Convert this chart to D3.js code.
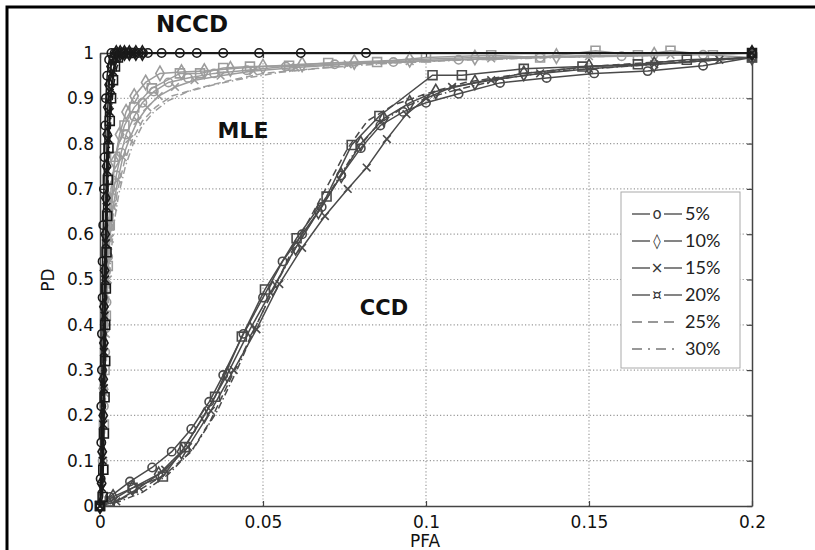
<!DOCTYPE html>
<html>
<head>
<meta charset="utf-8">
<script src="https://cdn.jsdelivr.net/npm/d3@7"></script>
<style>
  body { margin: 0; background: #fff; }
  svg { display: block; }
</style>
</head>
<body>
<svg width="815" height="550"></svg>
<script>
// Tick values and legend labels
const xTicks = [0, 0.05, 0.1, 0.15, 0.2];
const yTicks = [0, 0.1, 0.2, 0.3, 0.4, 0.5, 0.6, 0.7, 0.8, 0.9, 1];
const seriesNames = ["5%", "10%", "15%", "20%", "25%", "30%"];
const legendGlyphs = ["o", "\u25CA", "\u00D7", "\u00A4", "", ""];

// NCCD curves (black), points as [PFA, PD]
const nccd05 = [[0,0],[0.0002,0.06],[0.0004,0.14],[0.0004,0.22],[0.0006,0.3],[0.0006,0.38],[0.0008,0.46],[0.0008,0.54],[0.001,0.62],[0.0012,0.7],[0.0014,0.77],[0.0016,0.84],[0.0018,0.9],[0.0022,0.95],[0.0028,0.985],[0.0035,1],[0.0045,1],[0.0055,1],[0.0065,1],[0.0075,1],[0.0088,1],[0.0102,1],[0.0118,1],[0.0132,1],[0.0147,1],[0.0189,1],[0.0245,1],[0.0297,1],[0.0378,1],[0.0488,1],[0.0616,1],[0.0816,1],[0.2,1]];
const nccd10 = [[0,0],[0.0005,0.05],[0.0007,0.12],[0.001,0.2],[0.001,0.28],[0.0012,0.36],[0.0012,0.44],[0.0014,0.52],[0.0016,0.6],[0.0018,0.68],[0.002,0.75],[0.0022,0.82],[0.0024,0.88],[0.0028,0.93],[0.0034,0.97],[0.004,0.99],[0.005,1],[0.0062,1],[0.0075,1],[0.009,1],[0.011,1],[0.013,1],[0.2,1]];
const nccd15 = [[0,0],[0.0006,0.04],[0.0008,0.1],[0.001,0.18],[0.0012,0.26],[0.0012,0.34],[0.0014,0.42],[0.0016,0.5],[0.0018,0.58],[0.002,0.66],[0.0022,0.74],[0.0026,0.81],[0.003,0.87],[0.0034,0.92],[0.004,0.96],[0.0048,0.99],[0.0058,1],[0.007,1],[0.0085,1],[0.01,1],[0.012,1],[0.2,1]];
const nccd20 = [[0,0],[0.0008,0.02],[0.001,0.08],[0.0012,0.16],[0.0014,0.24],[0.0016,0.32],[0.0016,0.4],[0.0018,0.48],[0.002,0.56],[0.0022,0.64],[0.0024,0.72],[0.0026,0.79],[0.003,0.85],[0.0034,0.9],[0.004,0.94],[0.0046,0.97],[0.0055,0.99],[0.0065,1],[0.008,1],[0.0095,1],[0.2,1]];
const nccd25 = [[0,0],[0.0004,0.1],[0.0008,0.25],[0.0012,0.4],[0.0016,0.55],[0.002,0.7],[0.0026,0.82],[0.0032,0.9],[0.004,0.95],[0.005,0.98],[0.0065,0.995],[0.009,1],[0.2,1]];
const nccd30 = [[0,0],[0.0005,0.08],[0.001,0.22],[0.0014,0.38],[0.0018,0.52],[0.0022,0.66],[0.0028,0.78],[0.0034,0.87],[0.0042,0.93],[0.0052,0.97],[0.0068,0.99],[0.0095,1],[0.2,1]];

// MLE curves (light gray)
const mle05 = [[0,0],[0.0008,0.1],[0.0012,0.22],[0.0016,0.34],[0.002,0.45],[0.0025,0.55],[0.003,0.62],[0.0038,0.68],[0.005,0.73],[0.0065,0.78],[0.008,0.82],[0.0105,0.86],[0.013,0.89],[0.0165,0.915],[0.021,0.935],[0.027,0.945],[0.035,0.955],[0.045,0.962],[0.057,0.97],[0.072,0.975],[0.09,0.98],[0.11,0.985],[0.135,0.99],[0.16,0.993],[0.185,0.996],[0.2,1]];
const mle10 = [[0,0],[0.0006,0.12],[0.001,0.26],[0.0014,0.4],[0.002,0.52],[0.0026,0.62],[0.0034,0.7],[0.0045,0.76],[0.006,0.82],[0.008,0.87],[0.0105,0.905],[0.014,0.935],[0.0184,0.955],[0.025,0.958],[0.032,0.96],[0.04,0.965],[0.05,0.97],[0.062,0.975],[0.078,0.98],[0.095,0.985],[0.115,0.99],[0.14,0.993],[0.17,0.996],[0.2,1]];
const mle15 = [[0,0],[0.001,0.1],[0.0014,0.25],[0.0018,0.38],[0.0024,0.5],[0.003,0.59],[0.004,0.66],[0.0055,0.72],[0.007,0.77],[0.009,0.81],[0.0115,0.85],[0.0145,0.88],[0.018,0.905],[0.023,0.925],[0.029,0.94],[0.037,0.95],[0.047,0.96],[0.06,0.968],[0.076,0.975],[0.095,0.982],[0.12,0.988],[0.15,0.993],[0.175,0.996],[0.2,1]];
const mle20 = [[0,0],[0.001,0.08],[0.0012,0.18],[0.0014,0.3],[0.0018,0.42],[0.0024,0.53],[0.003,0.62],[0.0046,0.771],[0.0075,0.84],[0.0105,0.88],[0.0159,0.922],[0.0245,0.955],[0.0307,0.955],[0.0378,0.967],[0.046,0.97],[0.058,0.972],[0.07,0.978],[0.085,0.98],[0.1,0.99],[0.12,0.995],[0.135,0.99],[0.152,1.005],[0.165,0.995],[0.175,1.005],[0.188,0.995],[0.2,0.99]];
const mle25 = [[0,0],[0.001,0.12],[0.0016,0.3],[0.0022,0.45],[0.003,0.56],[0.004,0.64],[0.0055,0.7],[0.0075,0.76],[0.01,0.81],[0.013,0.85],[0.017,0.88],[0.022,0.905],[0.03,0.922],[0.04,0.94],[0.05,0.955],[0.065,0.965],[0.08,0.975],[0.1,0.982],[0.125,0.988],[0.15,0.993],[0.2,1]];
const mle30 = [[0,0],[0.0012,0.1],[0.0018,0.28],[0.0024,0.42],[0.0032,0.54],[0.0042,0.62],[0.0058,0.69],[0.0078,0.75],[0.0102,0.8],[0.013,0.84],[0.0165,0.87],[0.021,0.895],[0.027,0.915],[0.035,0.93],[0.045,0.945],[0.056,0.958],[0.07,0.968],[0.088,0.977],[0.11,0.984],[0.14,0.99],[0.17,0.995],[0.2,1]];

// CCD curves (dark gray)
const ccd05 = [[0,0],[0.003,0.02],[0.0092,0.054],[0.016,0.085],[0.022,0.12],[0.028,0.17],[0.0335,0.23],[0.0378,0.289],[0.044,0.38],[0.05,0.46],[0.056,0.54],[0.062,0.6],[0.068,0.66],[0.074,0.73],[0.08,0.79],[0.086,0.84],[0.093,0.87],[0.1,0.89],[0.11,0.91],[0.1227,0.934],[0.137,0.945],[0.1516,0.955],[0.168,0.96],[0.185,0.972],[0.2,0.99]];
const ccd10 = [[0,0],[0.004,0.02],[0.01,0.04],[0.018,0.07],[0.025,0.12],[0.032,0.2],[0.039,0.29],[0.046,0.39],[0.053,0.48],[0.06,0.57],[0.067,0.65],[0.074,0.73],[0.08,0.8],[0.087,0.855],[0.095,0.89],[0.103,0.915],[0.115,0.935],[0.13,0.955],[0.15,0.97],[0.17,0.975],[0.2,0.99]];
const ccd15 = [[0,0],[0.005,0.01],[0.012,0.04],[0.02,0.08],[0.027,0.13],[0.034,0.21],[0.041,0.3],[0.048,0.39],[0.055,0.49],[0.062,0.57],[0.069,0.64],[0.076,0.7],[0.0818,0.747],[0.088,0.81],[0.094,0.865],[0.1,0.9],[0.108,0.925],[0.12,0.94],[0.135,0.955],[0.15,0.965],[0.17,0.975],[0.19,0.985],[0.2,0.99]];
const ccd20 = [[0,0],[0.003,0.01],[0.01,0.04],[0.0193,0.065],[0.026,0.13],[0.0353,0.241],[0.0435,0.374],[0.0506,0.478],[0.0603,0.591],[0.0695,0.683],[0.0772,0.797],[0.0857,0.861],[0.102,0.951],[0.111,0.951],[0.13,0.965],[0.148,0.97],[0.165,0.975],[0.18,0.985],[0.2,0.99]];
const ccd25 = [[0,0],[0.005,0.01],[0.012,0.035],[0.02,0.07],[0.028,0.12],[0.034,0.19],[0.04,0.28],[0.046,0.37],[0.052,0.46],[0.058,0.55],[0.064,0.63],[0.07,0.71],[0.076,0.79],[0.082,0.85],[0.09,0.885],[0.1,0.91],[0.112,0.935],[0.13,0.955],[0.15,0.97],[0.17,0.98],[0.2,0.99]];
const ccd30 = [[0,0],[0.006,0.01],[0.013,0.03],[0.021,0.07],[0.029,0.13],[0.036,0.21],[0.042,0.3],[0.048,0.4],[0.054,0.49],[0.06,0.57],[0.066,0.64],[0.072,0.71],[0.078,0.78],[0.085,0.84],[0.093,0.88],[0.1,0.9],[0.11,0.92],[0.125,0.945],[0.14,0.96],[0.16,0.97],[0.18,0.98],[0.2,0.99]];

// Plot geometry
const margin = { left: 100, top: 53, right: 63, bottom: 44 };
const width = 815 - margin.left - margin.right,
  height = 550 - margin.top - margin.bottom;

const svg = d3.select("svg");

// outer black frame
svg.append("rect")
  .attr("x", 7).attr("y", 7)
  .attr("width", 830).attr("height", 570)
  .attr("fill", "none")
  .attr("stroke", "#000")
  .attr("stroke-width", 3);

const g = svg.append("g").attr("transform", `translate(${margin.left},${margin.top})`);

const x = d3.scaleLinear().domain([0, 0.2]).range([0, width]);
const y = d3.scaleLinear().domain([0, 1]).range([height, 0]);

// dotted grid
g.selectAll(".xGrid")
  .data(xTicks.slice(1, -1))
  .enter()
  .append("line")
  .attr("x1", (d) => x(d)).attr("x2", (d) => x(d))
  .attr("y1", 0).attr("y2", height)
  .attr("stroke", "#999")
  .attr("stroke-width", 1.2)
  .attr("stroke-dasharray", "1.2,2.2");

g.selectAll(".yGrid")
  .data(yTicks.slice(1, -1))
  .enter()
  .append("line")
  .attr("x1", 0).attr("x2", width)
  .attr("y1", (d) => y(d)).attr("y2", (d) => y(d))
  .attr("stroke", "#999")
  .attr("stroke-width", 1.2)
  .attr("stroke-dasharray", "1.2,2.2");

// axes box with inward ticks
const axisColor = "#444";
const fmt = (d) => String(d);

const xAxis = g.append("g").attr("transform", `translate(0,${height})`)
  .call(d3.axisBottom(x).tickValues(xTicks).tickFormat(fmt).tickSizeInner(-5).tickSizeOuter(0).tickPadding(10));
const yAxis = g.append("g")
  .call(d3.axisLeft(y).tickValues(yTicks).tickFormat(fmt).tickSizeInner(-5).tickSizeOuter(0).tickPadding(6));
const xTop = g.append("g")
  .call(d3.axisTop(x).tickValues(xTicks).tickFormat("").tickSizeInner(-5).tickSizeOuter(0));
const yRight = g.append("g").attr("transform", `translate(${width},0)`)
  .call(d3.axisRight(y).tickValues(yTicks).tickFormat("").tickSizeInner(-5).tickSizeOuter(0));

[xAxis, yAxis, xTop, yRight].forEach((a) => {
  a.selectAll(".domain").attr("stroke", axisColor).attr("stroke-width", 1.5);
  a.selectAll(".tick line").attr("stroke", axisColor).attr("stroke-width", 1.2);
  a.selectAll("text")
    .attr("fill", "#111")
    .style("font-family", "'DejaVu Sans', sans-serif")
    .style("font-size", "17px");
});

// axis labels
svg.append("text")
  .attr("x", 425).attr("y", 547)
  .attr("text-anchor", "middle")
  .style("font-family", "'DejaVu Sans', sans-serif")
  .style("font-size", "17px")
  .attr("fill", "#111")
  .text("PFA");

svg.append("text")
  .attr("transform", "translate(54,280) rotate(-90)")
  .attr("text-anchor", "middle")
  .style("font-family", "'DejaVu Sans', sans-serif")
  .style("font-size", "17px")
  .attr("fill", "#111")
  .text("PD");

// series styles
const markerTypes = [d3.symbolCircle, d3.symbolDiamond, d3.symbolX, d3.symbolSquare, null, null];
const markerSizes = [55, 60, 40, 80, 0, 0];
const dashes = [null, null, null, null, "7,4", "7,3,1.5,3"];

const groups = [
  { name: "MLE", color: "#9c9c9c", series: [mle05, mle10, mle15, mle20, mle25, mle30] },
  { name: "CCD", color: "#4a4a4a", series: [ccd05, ccd10, ccd15, ccd20, ccd25, ccd30] },
  { name: "NCCD", color: "#1a1a1a", series: [nccd05, nccd10, nccd15, nccd20, nccd25, nccd30] },
];

const line = d3.line().x((d) => x(d[0])).y((d) => y(d[1]));

groups.forEach((grp) => {
  grp.series.forEach((pts, i) => {
    g.append("path")
      .datum(pts)
      .attr("fill", "none")
      .attr("stroke", grp.color)
      .attr("stroke-width", 1.5)
      .attr("stroke-dasharray", dashes[i])
      .attr("d", line);

    if (markerTypes[i]) {
      g.selectAll(null)
        .data(pts)
        .enter()
        .append("path")
        .attr("transform", (d) => `translate(${x(d[0])},${y(d[1])})`)
        .attr("d", d3.symbol().type(markerTypes[i]).size(markerSizes[i]))
        .attr("fill", "none")
        .attr("stroke", grp.color)
        .attr("stroke-width", 1.6);
    }
  });
});

// group labels
const labelData = [
  { text: "NCCD", x: 192, y: 32, size: 23 },
  { text: "MLE", x: 243, y: 138, size: 22 },
  { text: "CCD", x: 384, y: 315, size: 21 },
];
svg.selectAll(".groupLabel")
  .data(labelData)
  .enter()
  .append("text")
  .attr("x", (d) => d.x).attr("y", (d) => d.y)
  .attr("text-anchor", "middle")
  .style("font-family", "'DejaVu Sans', sans-serif")
  .style("font-weight", "bold")
  .style("font-size", (d) => d.size + "px")
  .attr("fill", "#111")
  .text((d) => d.text);

// legend
const legend = svg.append("g");
legend.append("rect")
  .attr("x", 621).attr("y", 192)
  .attr("width", 119).attr("height", 176)
  .attr("fill", "#fff")
  .attr("stroke", "#aaa")
  .attr("stroke-width", 1);

seriesNames.forEach((name, i) => {
  const by = 220 + i * 27;
  const cy = by - 6;
  if (legendGlyphs[i]) {
    legend.append("line").attr("x1", 632).attr("x2", 650).attr("y1", cy).attr("y2", cy)
      .attr("stroke", "#333").attr("stroke-width", 1.2);
    legend.append("line").attr("x1", 664).attr("x2", 682).attr("y1", cy).attr("y2", cy)
      .attr("stroke", "#333").attr("stroke-width", 1.2);
    legend.append("text")
      .attr("x", 657).attr("y", by - 1)
      .attr("text-anchor", "middle")
      .style("font-family", "'DejaVu Sans', sans-serif")
      .style("font-size", "15px")
      .attr("fill", "#333")
      .text(legendGlyphs[i]);
  } else {
    legend.append("line").attr("x1", 632).attr("x2", 680).attr("y1", cy).attr("y2", cy)
      .attr("stroke", "#333").attr("stroke-width", 1.2)
      .attr("stroke-dasharray", i === 4 ? "10,6" : "10,6,2,6");
  }
  legend.append("text")
    .attr("x", 685).attr("y", by)
    .style("font-family", "Lato, 'Open Sans', sans-serif")
    .style("font-size", "18px")
    .attr("fill", "#222")
    .text(name);
});
</script>
</body>
</html>
